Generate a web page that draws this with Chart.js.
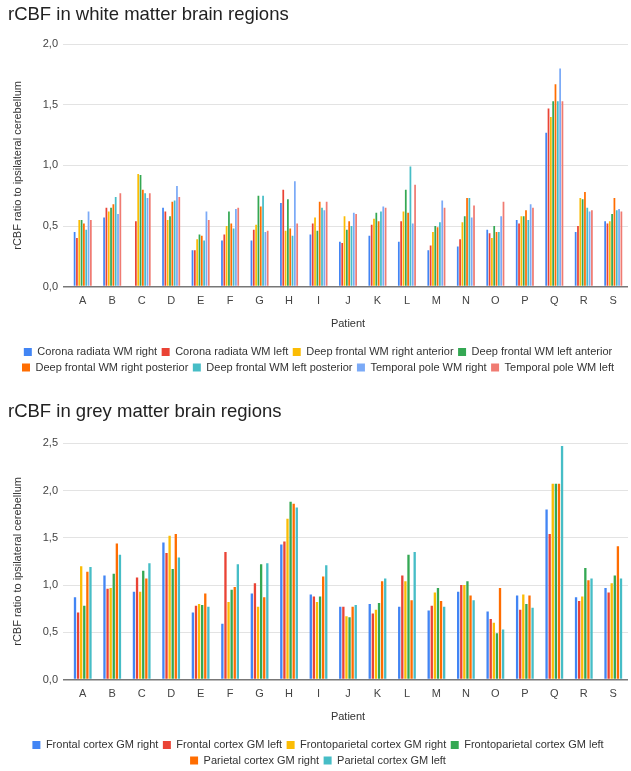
<!DOCTYPE html>
<html>
<head>
<meta charset="utf-8">
<script src="https://cdn.jsdelivr.net/npm/chart.js@4"></script>
<style>
    body { margin: 0; background: #fff; overflow: hidden; }
    .chart-box { position: absolute; left: 0; width: 631px; }
</style>
</head>
<body>
<div class="chart-box" style="top:0; height:385px;"><canvas id="wm-chart"></canvas></div>
<div class="chart-box" style="top:392px; height:386px;"><canvas id="gm-chart"></canvas></div>
<script>
const patients = ['A', 'B', 'C', 'D', 'E', 'F', 'G', 'H', 'I', 'J', 'K', 'L', 'M', 'N', 'O', 'P', 'Q', 'R', 'S'];

// white matter
const wmLabels = [
    'Corona radiata WM right', 'Corona radiata WM left', 'Deep frontal WM right anterior', 'Deep frontal WM left anterior',
    'Deep frontal WM right posterior', 'Deep frontal WM left posterior', 'Temporal pole WM right', 'Temporal pole WM left'
];
const wmColors = ['#4285F4', '#EA4335', '#FBBC04', '#34A853', '#FF6D01', '#46BDC6', '#7BAAF7', '#F07B72'];
const coronaRight    = [0.45, 0.57, null, 0.65, 0.30, 0.38, 0.38, 0.69, 0.43, 0.37, 0.42, 0.37, 0.30, 0.33, 0.47, 0.55, 1.27, 0.45, 0.54];
const coronaLeft     = [0.40, 0.65, 0.54, 0.62, 0.30, 0.43, 0.47, 0.80, 0.52, 0.36, 0.51, 0.54, 0.34, 0.39, 0.44, 0.52, 1.47, 0.50, 0.52];
const frontalRightAnt  = [0.55, 0.62, 0.93, 0.55, 0.39, 0.50, 0.51, 0.46, 0.57, 0.58, 0.56, 0.62, 0.45, 0.53, 0.40, 0.58, 1.40, 0.73, 0.54];
const frontalLeftAnt   = [0.55, 0.65, 0.92, 0.58, 0.43, 0.62, 0.75, 0.72, 0.46, 0.47, 0.61, 0.80, 0.50, 0.58, 0.50, 0.58, 1.53, 0.72, 0.60];
const frontalRightPost = [0.52, 0.68, 0.80, 0.70, 0.42, 0.52, 0.66, 0.48, 0.70, 0.54, 0.54, 0.61, 0.49, 0.73, 0.45, 0.63, 1.67, 0.78, 0.73];
const frontalLeftPost  = [0.47, 0.74, 0.77, 0.71, 0.38, 0.48, 0.75, 0.42, 0.65, 0.50, 0.62, 0.99, 0.53, 0.73, 0.45, 0.55, 1.53, 0.65, 0.63];
const temporalRight  = [0.62, 0.60, 0.73, 0.83, 0.62, 0.64, 0.45, 0.87, 0.63, 0.61, 0.66, 0.52, 0.71, 0.57, 0.58, 0.68, 1.80, 0.62, 0.64];
const temporalLeft   = [0.55, 0.77, 0.77, 0.74, 0.55, 0.65, 0.46, 0.52, 0.70, 0.60, 0.65, 0.84, 0.65, 0.67, 0.70, 0.65, 1.53, 0.63, 0.62];

// grey matter
const gmLabels = [
    'Frontal cortex GM right', 'Frontal cortex GM left', 'Frontoparietal cortex GM right', 'Frontoparietal cortex GM left',
    'Parietal cortex GM right', 'Parietal cortex GM left'
];
const gmColors = ['#4285F4', '#EA4335', '#FBBC04', '#34A853', '#FF6D01', '#46BDC6'];
const frontalCortexRight = [0.87, 1.10, 0.93, 1.45, 0.71, 0.59, 0.91, 1.43, 0.90, 0.77, 0.80, 0.77, 0.73, 0.93, 0.72, 0.89, 1.80, 0.87, 0.97];
const frontalCortexLeft  = [0.71, 0.96, 1.08, 1.34, 0.78, 1.35, 1.02, 1.46, 0.88, 0.77, 0.70, 1.10, 0.78, 1.00, 0.64, 0.74, 1.54, 0.83, 0.92];
const frontoParRight     = [1.20, 0.97, 0.93, 1.52, 0.80, 0.82, 0.77, 1.70, 0.82, 0.67, 0.74, 1.04, 0.92, 1.00, 0.60, 0.90, 2.07, 0.88, 1.02];
const frontoParLeft      = [0.78, 1.12, 1.15, 1.17, 0.79, 0.95, 1.22, 1.88, 0.88, 0.66, 0.81, 1.32, 0.97, 1.04, 0.49, 0.80, 2.07, 1.18, 1.10];
const parietalRight      = [1.14, 1.44, 1.07, 1.54, 0.91, 0.98, 0.87, 1.86, 1.09, 0.77, 1.04, 0.84, 0.83, 0.89, 0.97, 0.89, 2.07, 1.05, 1.41];
const parietalLeft       = [1.19, 1.32, 1.23, 1.29, 0.77, 1.22, 1.23, 1.82, 1.21, 0.79, 1.07, 1.35, 0.77, 0.84, 0.53, 0.76, 2.47, 1.07, 1.07];

const wmValues = [coronaRight, coronaLeft, frontalRightAnt, frontalLeftAnt, frontalRightPost, frontalLeftPost, temporalRight, temporalLeft];
const gmValues = [frontalCortexRight, frontalCortexLeft, frontoParRight, frontoParLeft, parietalRight, parietalLeft];

const fontFamily = '"Liberation Sans", Arial, sans-serif';

function buildDatasets(labels, colors, values) {
    return labels.map((label, i) => ({
        label: label,
        data: values[i],
        backgroundColor: colors[i],
        borderWidth: 0,
        categoryPercentage: 0.63,
        barPercentage: 0.75
    }));
}

function makeChart(canvasId, title, datasets, yMax, titlePad) {
    const ctx = document.getElementById(canvasId).getContext('2d');
    return new Chart(ctx, {
        type: 'bar',
        data: { labels: patients, datasets: datasets },
        options: {
            responsive: true,
            maintainAspectRatio: false,
            animation: false,
            layout: { padding: { left: 8, right: 3, top: 0, bottom: 2 } },
            scales: {
                x: {
                    grid: { display: false },
                    border: { display: false },
                    ticks: { color: '#444', font: { family: fontFamily, size: 11 }, padding: 0 },
                    title: {
                        display: true,
                        text: 'Patient',
                        color: '#333',
                        font: { family: fontFamily, size: 11 },
                        padding: { top: 10, bottom: 11 }
                    }
                },
                y: {
                    min: 0,
                    max: yMax,
                    border: { display: false },
                    grid: {
                        color: function(context) {
                            return context.tick && context.tick.value === 0 ? '#777' : '#e3e3e3';
                        },
                        lineWidth: function(context) {
                            return context.tick && context.tick.value === 0 ? 1.5 : 1;
                        },
                        drawTicks: true,
                        tickLength: 5
                    },
                    ticks: {
                        stepSize: 0.5,
                        color: '#444',
                        padding: 5,
                        font: { family: fontFamily, size: 11 },
                        callback: function(value) {
                            return value.toFixed(1).replace('.', ',');
                        }
                    },
                    title: {
                        display: true,
                        text: 'rCBF ratio to ipsilateral cerebellum',
                        color: '#333',
                        font: { family: fontFamily, size: 11 },
                        padding: { top: 3, bottom: 4 }
                    },
                    afterFit: function(scale) {
                        scale.width = 60;
                    }
                }
            },
            plugins: {
                title: {
                    display: true,
                    text: title,
                    align: 'start',
                    color: '#222',
                    font: { family: fontFamily, size: 18.5, weight: 'normal' },
                    padding: titlePad
                },
                legend: {
                    position: 'bottom',
                    labels: {
                        color: '#333',
                        font: { family: fontFamily, size: 11 },
                        boxWidth: 8,
                        boxHeight: 8,
                        padding: 4.5
                    }
                },
                tooltip: { enabled: false }
            }
        }
    });
}

makeChart('wm-chart', 'rCBF in white matter brain regions',
    buildDatasets(wmLabels, wmColors, wmValues), 2, { top: 4, bottom: 18 });
makeChart('gm-chart', 'rCBF in grey matter brain regions',
    buildDatasets(gmLabels, gmColors, gmValues), 2.5, { top: 9, bottom: 20 });
</script>
</body>
</html>
